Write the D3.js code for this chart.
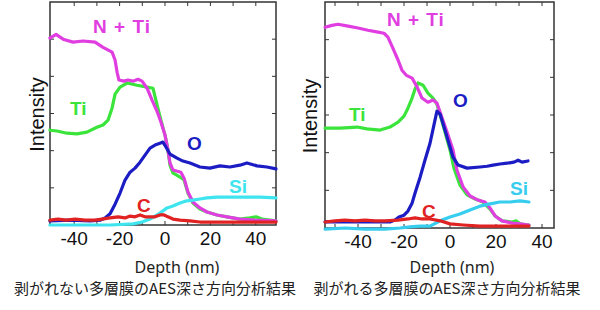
<!DOCTYPE html>
<html>
<head>
<meta charset="utf-8">
<script src="https://cdn.jsdelivr.net/npm/d3@7"></script>
<style>
  body { margin: 0; background: #fff; }
  svg { display: block; }
</style>
</head>
<body>
<div id="chart"></div>
<script>
// AES depth profiles: [depth (nm), intensity (a.u.)]
// Left panel: non-peeling multilayer
const leftNTi = [[-50.7,5.03],[-48.0,5.13],[-44.9,5.0],[-40.5,4.92],[-36.1,4.95],[-30.8,4.92],[-27.3,4.78],[-23.3,4.65],[-22.0,4.44],[-21.1,4.11],[-20.3,3.9],[-18.1,3.87],[-16.3,3.9],[-14.1,3.87],[-11.9,3.92],[-10.1,3.87],[-7.9,3.68],[-5.7,3.36],[-3.5,3.06],[-1.8,2.77],[0,2.42],[1.3,2.02],[2.2,1.67],[3.5,1.48],[7.0,1.42],[8.4,1.26],[10.1,0.89],[12.3,0.62],[15.4,0.46],[18.5,0.35],[22.9,0.27],[27.3,0.22],[33.0,0.16],[39.6,0.13],[48.9,0.11]];
const leftTi = [[-50.7,2.55],[-47.6,2.53],[-43.2,2.47],[-38.8,2.45],[-34.4,2.5],[-30.0,2.63],[-27.3,2.69],[-25.1,2.82],[-23.3,3.15],[-22.0,3.52],[-19.8,3.71],[-16.7,3.82],[-12.3,3.76],[-7.9,3.71],[-5.3,3.68],[-3.5,3.23],[-1.8,2.82],[0,2.42],[1.3,2.02],[2.2,1.61],[3.5,1.4],[6.6,1.29],[8.4,1.21],[10.1,0.86],[12.3,0.59],[15.4,0.43],[18.5,0.35],[22.9,0.27],[27.3,0.22],[33.0,0.16],[37.4,0.19],[40.1,0.22],[42.7,0.16],[48.9,0.11]];
const leftO = [[-50.7,0.11],[-41.9,0.13],[-33.0,0.11],[-28.6,0.13],[-26.4,0.19],[-24.2,0.3],[-22.0,0.56],[-19.8,0.86],[-17.6,1.21],[-15.4,1.42],[-13.2,1.53],[-11.0,1.69],[-8.8,1.88],[-6.6,2.07],[-4.4,2.15],[-2.2,2.2],[-0.9,2.23],[0.4,2.1],[2.2,1.91],[5.3,1.8],[7.9,1.72],[11.0,1.67],[15.4,1.56],[19.8,1.53],[24.2,1.59],[28.6,1.56],[33.0,1.61],[36.1,1.67],[40.5,1.59],[44.9,1.56],[48.9,1.51]];
const leftSi = [[-50.7,0],[-37.4,0],[-24.2,0],[-14.1,0.03],[-10.1,0.08],[-6.6,0.16],[-3.5,0.27],[-0.9,0.38],[0.9,0.46],[3.5,0.51],[6.6,0.59],[9.7,0.65],[12.3,0.67],[15.4,0.7],[18.5,0.73],[22.9,0.75],[27.3,0.75],[33.0,0.75],[37.4,0.75],[41.9,0.75],[48.9,0.73]];
const leftC = [[-50.7,0.13],[-47.1,0.16],[-43.6,0.13],[-39.6,0.16],[-35.2,0.13],[-30.8,0.13],[-27.8,0.16],[-24.2,0.19],[-20.7,0.22],[-17.6,0.19],[-15.4,0.24],[-13.2,0.22],[-11.0,0.27],[-8.8,0.22],[-6.6,0.22],[-4.4,0.22],[-2.2,0.27],[-0.4,0.27],[1.3,0.22],[3.5,0.16],[6.6,0.13],[11.0,0.11],[15.4,0.08],[24.2,0.08],[33.0,0.08],[41.9,0.08],[48.9,0.08]];

// Right panel: peeling multilayer
const rightNTi = [[-54.3,5.33],[-51.3,5.38],[-48.7,5.41],[-44.3,5.36],[-40.0,5.31],[-35.7,5.25],[-31.3,5.2],[-28.7,5.17],[-27.0,5.07],[-24.8,4.77],[-22.6,4.46],[-20.9,4.19],[-19.1,4.06],[-16.5,3.98],[-14.3,3.74],[-12.2,3.45],[-9.6,3.34],[-7.4,3.4],[-5.7,3.32],[-3.9,3.0],[-1.3,2.55],[1.3,2.07],[3.0,1.54],[5.7,1.09],[8.7,0.85],[12.2,0.74],[15.2,0.69],[17.4,0.53],[19.6,0.32],[22.6,0.19],[27.0,0.13],[30.4,0.11],[34.3,0.08]];
const rightTi = [[-54.3,2.65],[-47.8,2.65],[-40.4,2.68],[-36.1,2.63],[-30.4,2.6],[-26.1,2.68],[-22.6,2.81],[-20.0,2.97],[-18.3,3.18],[-16.5,3.45],[-15.2,3.69],[-13.9,3.85],[-11.7,3.79],[-9.6,3.58],[-7.4,3.45],[-5.7,3.29],[-3.9,2.92],[-2.2,2.55],[0,2.07],[1.7,1.59],[4.3,1.14],[7.4,0.88],[10.9,0.77],[14.3,0.69],[17.4,0.5],[19.6,0.32],[22.6,0.19],[27.0,0.16],[28.7,0.19],[30.4,0.11],[34.3,0.08]];
const rightO = [[-54.3,0.16],[-39.1,0.16],[-26.1,0.16],[-23.9,0.21],[-22.2,0.29],[-20.0,0.34],[-18.3,0.45],[-16.5,0.66],[-15.2,0.93],[-13.0,1.35],[-10.9,1.8],[-8.7,2.25],[-7.0,2.73],[-5.7,3.1],[-4.3,3.02],[-2.2,2.6],[0,2.15],[1.3,1.88],[3.5,1.67],[7.4,1.59],[13.0,1.62],[16.1,1.64],[18.7,1.67],[21.7,1.7],[24.8,1.72],[27.8,1.75],[29.6,1.8],[31.3,1.75],[33.9,1.78]];
const rightSi = [[-54.3,-0.03],[-45.7,0],[-37.0,-0.03],[-28.3,-0.03],[-21.7,0],[-17.4,0.03],[-13.0,0.05],[-8.7,0.05],[-4.3,0.19],[0,0.29],[4.3,0.37],[8.7,0.48],[13.0,0.58],[17.4,0.64],[21.7,0.69],[26.1,0.69],[30.4,0.72],[34.3,0.69]];
const rightC = [[-54.3,0.16],[-50.0,0.19],[-45.7,0.21],[-41.3,0.19],[-37.0,0.21],[-32.6,0.19],[-28.3,0.19],[-22.6,0.21],[-18.3,0.24],[-15.2,0.27],[-12.2,0.24],[-8.7,0.24],[-4.3,0.19],[0,0.11],[5.7,0.08],[13.0,0.05],[21.7,0.05],[34.3,0.05]];

const xTickLabels = [-40, -20, 0, 20, 40];
const elements = ["Ti", "N + Ti", "O", "Si", "C"];

const panels = [
  {
    series: { "Ti": leftTi, "N + Ti": leftNTi, "O": leftO, "Si": leftSi, "C": leftC },
    labels: { "N + Ti": [-31.7, 5.16], "Ti": [-41.9, 2.96], "O": [9.7, 2.02], "Si": [28.2, 0.86], "C": [-12.3, 0.35] },
    colors: { "Ti": "#3be43b", "N + Ti": "#e03ee0", "O": "#1c1cc4", "Si": "#3ee4ee", "C": "#e02222" },
    xDomain: [-50.66, 48.9], box: { x0: 50, x1: 276, y0: 2, y1: 225 },
    yLabelX: 37, depthX: 177, captionX: 155,
    caption: "剥がれない多層膜のAES深さ方向分析結果"
  },
  {
    series: { "Ti": rightTi, "N + Ti": rightNTi, "O": rightO, "Si": rightSi, "C": rightC },
    labels: { "N + Ti": [-27.4, 5.36], "Ti": [-43.9, 2.84], "O": [1.3, 3.21], "Si": [26.1, 0.88], "C": [-12.2, 0.27] },
    colors: { "Ti": "#3be43b", "N + Ti": "#e03ee0", "O": "#1c1cc4", "Si": "#36cdef", "C": "#e02222" },
    xDomain: [-54.35, 45.2], box: { x0: 325, x1: 554, y0: 2, y1: 228 },
    yLabelX: 310, depthX: 452, captionX: 447,
    caption: "剥がれる多層膜のAES深さ方向分析結果"
  }
];

const svg = d3.select("#chart").append("svg")
  .attr("width", 600)
  .attr("height", 310);

panels.forEach(p => {
  const b = p.box;
  const x = d3.scaleLinear().domain(p.xDomain).range([b.x0, b.x1]);
  const y = d3.scaleLinear().domain([0, 6]).range([b.y1, b.y0]);
  const g = svg.append("g");

  // frame
  g.append("rect")
    .attr("x", b.x0).attr("y", b.y0)
    .attr("width", b.x1 - b.x0).attr("height", b.y1 - b.y0)
    .attr("fill", "none").attr("stroke", "#333").attr("stroke-width", 1.5);

  // inward ticks on all four sides
  const xt = d3.range(-50, 50, 10).filter(v => v > p.xDomain[0] + 1 && v < p.xDomain[1] - 1);
  const yt = d3.range(1, 6);
  g.selectAll(".tt").data(xt).enter().append("line")
    .attr("x1", d => x(d)).attr("x2", d => x(d))
    .attr("y1", b.y0).attr("y2", b.y0 + 4)
    .attr("stroke", "#333");
  g.selectAll(".bt").data(xt).enter().append("line")
    .attr("x1", d => x(d)).attr("x2", d => x(d))
    .attr("y1", b.y1).attr("y2", b.y1 - 4)
    .attr("stroke", "#333");
  g.selectAll(".lt").data(yt).enter().append("line")
    .attr("x1", b.x0).attr("x2", b.x0 + 4)
    .attr("y1", d => y(d)).attr("y2", d => y(d))
    .attr("stroke", "#333");
  g.selectAll(".rt").data(yt).enter().append("line")
    .attr("x1", b.x1).attr("x2", b.x1 - 4)
    .attr("y1", d => y(d)).attr("y2", d => y(d))
    .attr("stroke", "#333");

  // tick labels
  g.selectAll(".xl").data(xTickLabels).enter().append("text")
    .attr("x", d => x(d)).attr("y", b.y1 + 20)
    .attr("text-anchor", "middle")
    .attr("font-family", "Liberation Sans, Arial, sans-serif")
    .attr("font-size", 19)
    .attr("fill", "#111")
    .text(d => d);

  // curves
  const line = d3.line().x(d => x(d[0])).y(d => y(d[1]));
  elements.forEach(el => {
    g.append("path")
      .datum(p.series[el])
      .attr("d", line)
      .attr("fill", "none")
      .attr("stroke", p.colors[el])
      .attr("stroke-width", 3.2)
      .attr("stroke-linejoin", "round")
      .attr("stroke-linecap", "round");
  });

  // curve labels
  elements.forEach(el => {
    const pos = p.labels[el];
    g.append("text")
      .attr("x", x(pos[0])).attr("y", y(pos[1]))
      .attr("font-family", "Liberation Sans, Arial, sans-serif")
      .attr("font-weight", "bold")
      .attr("font-size", 19)
      .attr("letter-spacing", el === "N + Ti" ? 1 : 0)
      .attr("fill", p.colors[el])
      .text(el);
  });

  // axis titles
  g.append("text")
    .attr("transform", `translate(${p.yLabelX + 7},${(b.y0 + b.y1) / 2 + 1}) rotate(-90)`)
    .attr("text-anchor", "middle")
    .attr("font-family", "Liberation Sans, Arial, sans-serif")
    .attr("font-size", 20)
    .attr("fill", "#111")
    .text("Intensity");

  g.append("text")
    .attr("x", p.depthX).attr("y", 273)
    .attr("text-anchor", "middle")
    .attr("font-family", "Noto Sans, sans-serif")
    .attr("font-size", 16)
    .attr("fill", "#222")
    .text("Depth (nm)");

  g.append("text")
    .attr("x", p.captionX).attr("y", 294)
    .attr("text-anchor", "middle")
    .attr("font-family", "Noto Sans CJK JP, sans-serif")
    .attr("font-size", 15)
    .attr("fill", "#222")
    .text(p.caption);
});
</script>
</body>
</html>
